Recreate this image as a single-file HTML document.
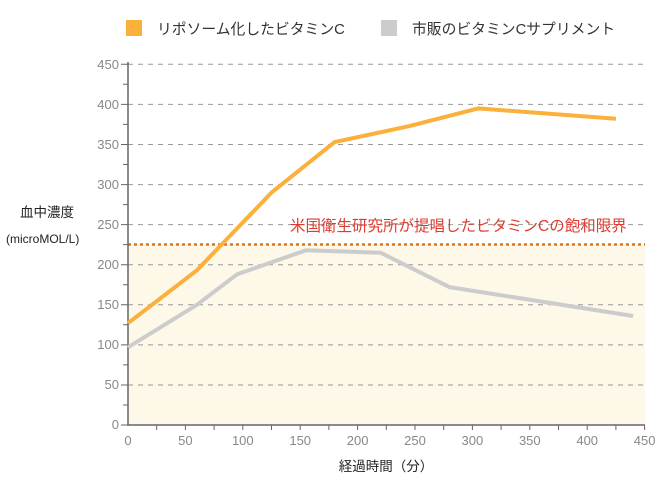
<!DOCTYPE html>
<html><head><meta charset="utf-8"><style>
body{margin:0;background:#fff;width:662px;height:483px;overflow:hidden;font-family:"Liberation Sans","Noto Sans CJK JP",sans-serif}
</style></head><body>
<svg width="662" height="483" xmlns="http://www.w3.org/2000/svg" font-family="Liberation Sans, Noto Sans CJK JP, sans-serif">
<rect x="128" y="245" width="517" height="180" fill="#fdf8e8"/>
<g stroke="#999" stroke-dasharray="5,5" stroke-width="1">
<line x1="128" y1="64.3" x2="645" y2="64.3"/><line x1="128" y1="104.4" x2="645" y2="104.4"/>
<line x1="128" y1="144.5" x2="645" y2="144.5"/><line x1="128" y1="184.6" x2="645" y2="184.6"/>
<line x1="128" y1="224.6" x2="645" y2="224.6"/><line x1="128" y1="264.7" x2="645" y2="264.7"/>
<line x1="128" y1="304.8" x2="645" y2="304.8"/><line x1="128" y1="344.9" x2="645" y2="344.9"/>
<line x1="128" y1="385" x2="645" y2="385"/>
</g>
<line x1="128" y1="244.5" x2="645" y2="244.5" stroke="#d9781a" stroke-width="2.5" stroke-dasharray="3,3"/>
<g stroke="#666" stroke-width="1.5">
<line x1="128" y1="62" x2="128" y2="425"/><line x1="127" y1="425" x2="645" y2="425"/>
</g>
<g stroke="#666" stroke-width="1">
<path d="M121 64.3h7M121 104.4h7M121 144.5h7M121 184.6h7M121 224.6h7M121 264.7h7M121 304.8h7M121 344.9h7M121 385h7M121 425h7"/>
<path d="M123 84.3h5M123 124.4h5M123 164.5h5M123 204.6h5M123 244.6h5M123 284.7h5M123 324.8h5M123 364.9h5M123 405h5"/>
<path d="M156.7 425v5M185.4 425v5M214.1 425v5M242.8 425v5M271.5 425v5M300.2 425v5M328.9 425v5M357.6 425v5M386.3 425v5M415 425v5M443.7 425v5M472.4 425v5M501.1 425v5M529.8 425v5M558.5 425v5M587.2 425v5M615.9 425v5M644.6 425v5"/>
</g>
<g fill="#888" font-size="13" text-anchor="end">
<text x="119" y="69">450</text><text x="119" y="109">400</text><text x="119" y="149">350</text>
<text x="119" y="189">300</text><text x="119" y="229">250</text><text x="119" y="269">200</text>
<text x="119" y="309">150</text><text x="119" y="349">100</text><text x="119" y="389">50</text><text x="119" y="429">0</text>
</g>
<g fill="#888" font-size="13" text-anchor="middle">
<text x="128" y="445">0</text><text x="185.4" y="445">50</text><text x="242.8" y="445">100</text>
<text x="300.2" y="445">150</text><text x="357.6" y="445">200</text><text x="415" y="445">250</text>
<text x="472.4" y="445">300</text><text x="529.8" y="445">350</text><text x="587.2" y="445">400</text><text x="644.6" y="445">450</text>
</g>
<polyline fill="none" stroke="#ccc" stroke-width="4" stroke-linejoin="round" points="128,347.3 196.9,304.8 237.1,274.3 306,250.3 380.6,252.7 449.4,287.1 633.1,316"/>
<polyline fill="none" stroke="#fbb03b" stroke-width="4" stroke-linejoin="round" points="128,323.2 196.9,270.3 271.5,192.6 334.6,142.1 409.3,126.1 478.1,108.4 615.9,118.8"/>
<text x="290" y="231" fill="#e03a2e" font-size="15.5">米国衛生研究所が提唱したビタミンCの飽和限界</text>
<text x="20" y="217" fill="#222" font-size="13.5">血中濃度</text>
<text x="6" y="243" fill="#222" font-size="12">(microMOL/L)</text>
<text x="386" y="471" fill="#222" font-size="13.5" text-anchor="middle">経過時間（分）</text>
<rect x="126" y="20" width="16" height="16" fill="#fbb03b"/>
<text x="157" y="34" fill="#333" font-size="14.8">リポソーム化したビタミンC</text>
<rect x="381" y="20" width="16" height="16" fill="#ccc"/>
<text x="412" y="34" fill="#333" font-size="14.8">市販のビタミンCサプリメント</text>
</svg>
</body></html>
